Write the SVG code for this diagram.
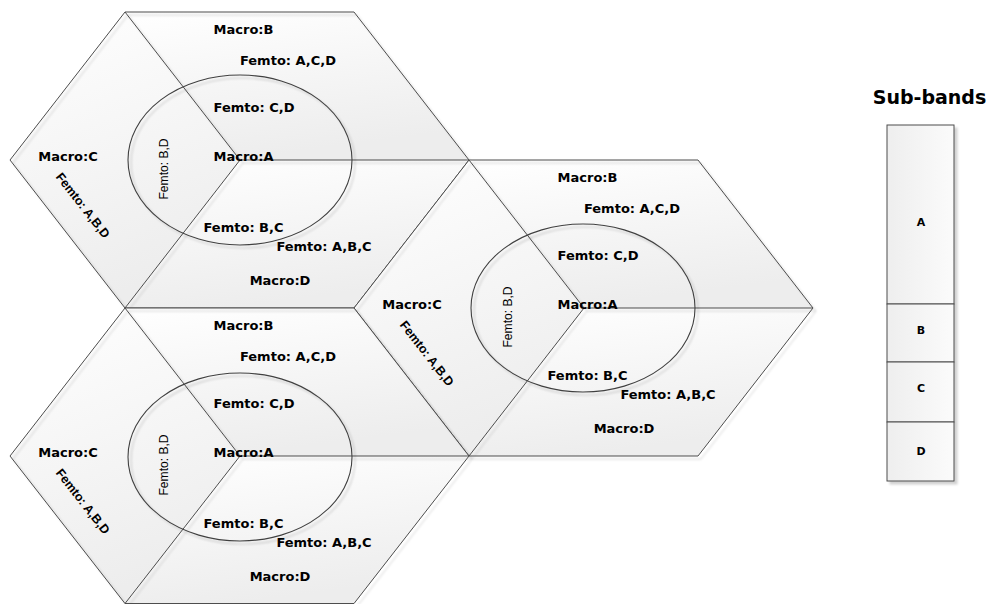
<svg xmlns="http://www.w3.org/2000/svg" width="990" height="604" viewBox="0 0 990 604">
<defs>
<linearGradient id="gFill" x1="0" y1="0" x2="0.3" y2="1">
<stop offset="0" stop-color="#ffffff"/>
<stop offset="1" stop-color="#ededed"/>
</linearGradient>
<linearGradient id="gBand" x1="0" y1="0" x2="1" y2="0">
<stop offset="0" stop-color="#eeeeee"/>
<stop offset="1" stop-color="#fbfbfb"/>
</linearGradient>
<filter id="sh" x="-10%" y="-10%" width="130%" height="130%">
<feGaussianBlur in="SourceAlpha" stdDeviation="1.2"/>
<feOffset dx="2.5" dy="2.5" result="b"/>
<feFlood flood-color="#000" flood-opacity="0.18"/>
<feComposite in2="b" operator="in"/>
<feMerge><feMergeNode/><feMergeNode in="SourceGraphic"/></feMerge>
</filter>
<style>
.rh{fill:url(#gFill);stroke:none}
.ln{fill:none;stroke:#4d4d4d;stroke-width:1}
.el{fill:none;stroke:#404040;stroke-width:1.1}
.t{font-family:"DejaVu Sans",Verdana,sans-serif;font-weight:bold;font-size:13px;fill:#000;text-anchor:middle}
.tv{font-family:"Liberation Sans",Arial,sans-serif;font-size:13.5px;fill:#000;text-anchor:middle}
.td{font-family:"Liberation Sans",Arial,sans-serif;font-weight:bold;font-size:12.5px;fill:#000;text-anchor:middle}
.band{fill:url(#gBand);stroke:#4d4d4d;stroke-width:1}
.bt{font-family:"DejaVu Sans",Verdana,sans-serif;font-weight:bold;font-size:11px;fill:#000;text-anchor:middle}
.title{font-family:"DejaVu Sans",Verdana,sans-serif;font-weight:bold;font-size:19px;fill:#000;text-anchor:middle}
</style>
</defs>

<g id="hex1" transform="translate(240,160)">
<polygon class="rh" points="0,0 -115,-148 114,-148 229,0"/>
<polygon class="rh" points="0,0 -115,-148 -230,0 -115,148"/>
<polygon class="rh" points="0,0 229,0 114,148 -115,148"/>
<g class="ln" filter="url(#sh)">
<polygon points="-115,-148 114,-148 229,0 114,148 -115,148 -230,0"/>
<polyline points="-115,-148 0,0 229,0"/>
<line x1="0" y1="0" x2="-115" y2="148"/>
</g>
<ellipse class="el" cx="0" cy="0" rx="112" ry="85" filter="url(#sh)"/>
<text class="t" x="3.5" y="-126">Macro:B</text>
<text class="t" x="48" y="-95">Femto: A,C,D</text>
<text class="t" x="14" y="-48">Femto: C,D</text>
<text class="t" x="3.5" y="1">Macro:A</text>
<text class="t" x="-172" y="1">Macro:C</text>
<text class="t" x="3.5" y="72">Femto: B,C</text>
<text class="t" x="84" y="91">Femto: A,B,C</text>
<text class="t" x="40" y="125">Macro:D</text>
<text class="tv" transform="translate(-72,9) rotate(-90)" textLength="61" lengthAdjust="spacingAndGlyphs">Femto: B,D</text>
<text class="td" transform="translate(-160.5,48) rotate(52)">Femto: A,B,D</text>
</g>

<g id="hex2" transform="translate(584,308)">
<polygon class="rh" points="0,0 -115,-148 114,-148 229,0"/>
<polygon class="rh" points="0,0 -115,-148 -230,0 -115,148"/>
<polygon class="rh" points="0,0 229,0 114,148 -115,148"/>
<g class="ln" filter="url(#sh)">
<polygon points="-115,-148 114,-148 229,0 114,148 -115,148 -230,0"/>
<polyline points="-115,-148 0,0 229,0"/>
<line x1="0" y1="0" x2="-115" y2="148"/>
</g>
<ellipse class="el" cx="-1" cy="0" rx="112" ry="84" filter="url(#sh)"/>
<text class="t" x="3.5" y="-126">Macro:B</text>
<text class="t" x="48" y="-95">Femto: A,C,D</text>
<text class="t" x="14" y="-48">Femto: C,D</text>
<text class="t" x="3.5" y="1">Macro:A</text>
<text class="t" x="-172" y="1">Macro:C</text>
<text class="t" x="3.5" y="72">Femto: B,C</text>
<text class="t" x="84" y="91">Femto: A,B,C</text>
<text class="t" x="40" y="125">Macro:D</text>
<text class="tv" transform="translate(-72,9) rotate(-90)" textLength="61" lengthAdjust="spacingAndGlyphs">Femto: B,D</text>
<text class="td" transform="translate(-160.5,48) rotate(52)">Femto: A,B,D</text>
</g>

<g id="hex3" transform="translate(240,456)">
<polygon class="rh" points="0,0 -115,-148 114,-148 229,0"/>
<polygon class="rh" points="0,0 -115,-148 -230,0 -115,148"/>
<polygon class="rh" points="0,0 229,0 114,148 -115,148"/>
<g class="ln" filter="url(#sh)">
<polygon points="-115,-148 114,-148 229,0 114,147.5 -115,147.5 -230,0"/>
<polyline points="-115,-148 0,0 229,0"/>
<line x1="0" y1="0" x2="-115" y2="147.5"/>
</g>
<ellipse class="el" cx="0" cy="1" rx="112" ry="84" filter="url(#sh)"/>
<text class="t" x="3.5" y="-126">Macro:B</text>
<text class="t" x="48" y="-95">Femto: A,C,D</text>
<text class="t" x="14" y="-48">Femto: C,D</text>
<text class="t" x="3.5" y="1">Macro:A</text>
<text class="t" x="-172" y="1">Macro:C</text>
<text class="t" x="3.5" y="72">Femto: B,C</text>
<text class="t" x="84" y="91">Femto: A,B,C</text>
<text class="t" x="40" y="125">Macro:D</text>
<text class="tv" transform="translate(-72,9) rotate(-90)" textLength="61" lengthAdjust="spacingAndGlyphs">Femto: B,D</text>
<text class="td" transform="translate(-160.5,48) rotate(52)">Femto: A,B,D</text>
</g>

<g id="subbands">
<text class="title" x="929.5" y="104">Sub-bands</text>
<g filter="url(#sh)">
<rect class="band" x="887" y="125" width="67" height="179"/>
<rect class="band" x="887" y="304" width="67" height="58"/>
<rect class="band" x="887" y="362" width="67" height="60"/>
<rect class="band" x="887" y="422" width="67" height="59"/>
</g>
<text class="bt" x="921" y="226">A</text>
<text class="bt" x="921" y="334">B</text>
<text class="bt" x="921" y="392">C</text>
<text class="bt" x="921" y="455">D</text>
</g>
</svg>
